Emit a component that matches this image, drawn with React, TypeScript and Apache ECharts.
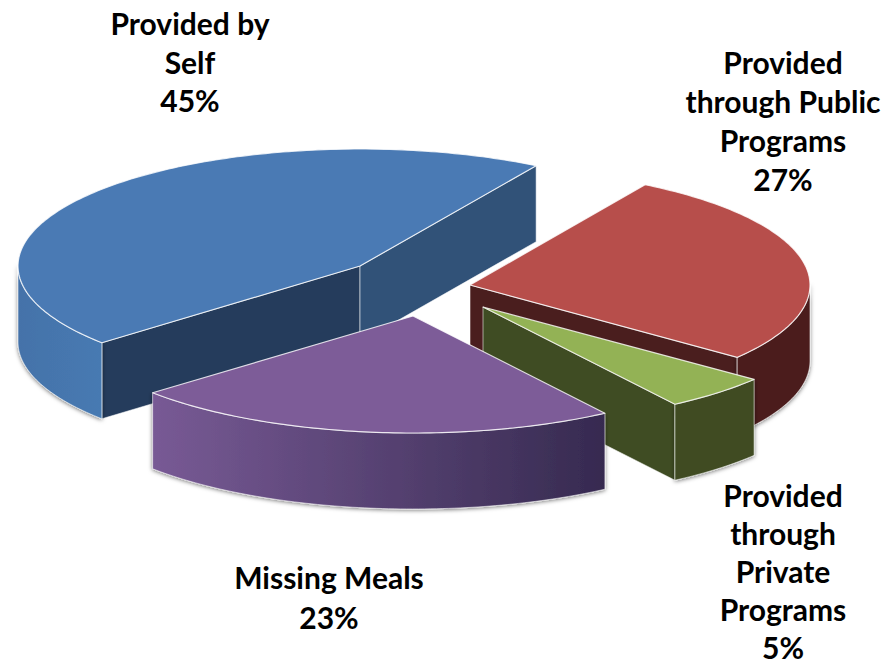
import React, { useEffect, useRef } from "react";
import * as echarts from "echarts";

const categories = [
  "Provided by\nSelf",
  "Provided\nthrough Public\nPrograms",
  "Provided\nthrough\nPrivate\nPrograms",
  "Missing Meals",
];
const shares = [45, 27, 5, 23];

const WIDTH = 888;
const HEIGHT = 665;
const RY = 117;
const DEPTH = 76;
const START_DEG = 229;

const radii = [342, 340, 345, 345];
const centres = [
  [360, 266],
  [470, 285],
  [483, 307],
  [413, 316],
];
const labelSpots = [
  [190, 23, 38.5],
  [783, 62, 39],
  [783, 495, 38],
  [329, 577, 40],
];
const topColours = ["#4a7ab4", "#b74e4b", "#93b255", "#7d5c98"];
const startFaceColours = ["#253c5c", "#4a1e1e", "#3f4c23", "#3a2c52"];
const endFaceColours = ["#315278", "#4a1e1e", "#3f4c23", "#3a2c52"];
const wallFills: any[] = [
  { type: "linear", x: 0, y: 0, x2: 1, y2: 0, colorStops: [{ offset: 0, color: "#4472a9" }, { offset: 1, color: "#477ab2" }] },
  "#4b1f1f",
  "#3f4c23",
  { type: "linear", x: 0, y: 0, x2: 1, y2: 0, colorStops: [{ offset: 0, color: "#785a95" }, { offset: 1, color: "#362a50" }] },
];

const EDGE = "rgba(255,255,255,0.8)";

function point(cx: number, cy: number, rx: number, deg: number, drop = 0): number[] {
  const a = (deg * Math.PI) / 180;
  return [cx + rx * Math.sin(a), cy - RY * Math.cos(a) + drop];
}

function arcPoints(cx: number, cy: number, rx: number, from: number, to: number, drop = 0): number[][] {
  const steps = Math.max(2, Math.ceil(Math.abs(to - from)));
  const pts: number[][] = [];
  for (let i = 0; i <= steps; i++) pts.push(point(cx, cy, rx, from + ((to - from) * i) / steps, drop));
  return pts;
}

function renderSlice(params: any, api: any) {
  const i = params.dataIndex;
  const value = api.value(0);
  const total = shares.reduce((s, v) => s + v, 0);
  const before = shares.slice(0, i).reduce((s, v) => s + v, 0);
  const from = START_DEG + (before / total) * 360;
  const to = from + (value / total) * 360;
  const [cx, cy] = centres[i];
  const rx = radii[i];
  const base = i * 10;
  const children: any[] = [];

  const face = (deg: number, fill: string, z: number) => {
    const p = point(cx, cy, rx, deg);
    children.push({
      type: "polygon",
      z2: base + z,
      shape: { points: [[cx, cy], p, [p[0], p[1] + DEPTH], [cx, cy + DEPTH]] },
      style: { fill, stroke: "rgba(255,255,255,0.55)", lineWidth: 1 },
      silent: true,
    });
  };
  if (Math.sin((from * Math.PI) / 180) < 0) face(from, startFaceColours[i], 1);
  if (Math.sin((to * Math.PI) / 180) > 0) face(to, endFaceColours[i], 2);

  // Outer wall: the part of the rim that faces the viewer (90..270 degrees).
  for (const shift of [0, 360]) {
    const a = Math.max(from, 90 + shift);
    const b = Math.min(to, 270 + shift);
    if (b > a) {
      const upper = arcPoints(cx, cy, rx, a, b);
      const lower = arcPoints(cx, cy, rx, b, a, DEPTH);
      children.push({
        type: "polygon",
        z2: base + 3,
        shape: { points: upper.concat(lower) },
        style: {
          fill: wallFills[i],
          stroke: "rgba(255,255,255,0.55)",
          lineWidth: 1,
          shadowColor: "rgba(0,0,0,0.55)",
          shadowBlur: 4,
          shadowOffsetY: 1,
        },
        silent: true,
      });
    }
  }

  children.push({
    type: "polygon",
    z2: base + 4,
    shape: { points: [[cx, cy] as number[]].concat(arcPoints(cx, cy, rx, from, to)) },
    style: { fill: topColours[i], stroke: EDGE, lineWidth: 1.2, lineJoin: "round" },
    silent: true,
  });

  const [lx, ly, lh] = labelSpots[i];
  children.push({
    type: "text",
    z2: 100,
    x: lx,
    y: ly - lh / 2,
    style: {
      text: `${categories[i]}\n${value}%`,
      fontFamily: "Lato",
      fontWeight: "bold",
      fontSize: 30,
      lineHeight: lh,
      fill: "#000000",
      align: "center",
      verticalAlign: "top",
    },
    silent: true,
  });

  return { type: "group", children };
}

export default function App() {
  const ref = useRef<HTMLDivElement>(null);
  useEffect(() => {
    const chart = echarts.init(ref.current!, null, { renderer: "svg" });
    chart.setOption({
      animation: false,
      backgroundColor: "#ffffff",
      series: [
        {
          type: "custom",
          coordinateSystem: "none",
          renderItem: renderSlice,
          data: shares.map((v, i) => ({ name: categories[i].replace(/\n/g, " "), value: [v] })),
          silent: true,
        },
      ],
    });
    return () => chart.dispose();
  }, []);
  return (
    <div
      ref={ref}
      style={{ position: "fixed", left: 0, top: 0, width: WIDTH, height: HEIGHT }}
    />
  );
}
